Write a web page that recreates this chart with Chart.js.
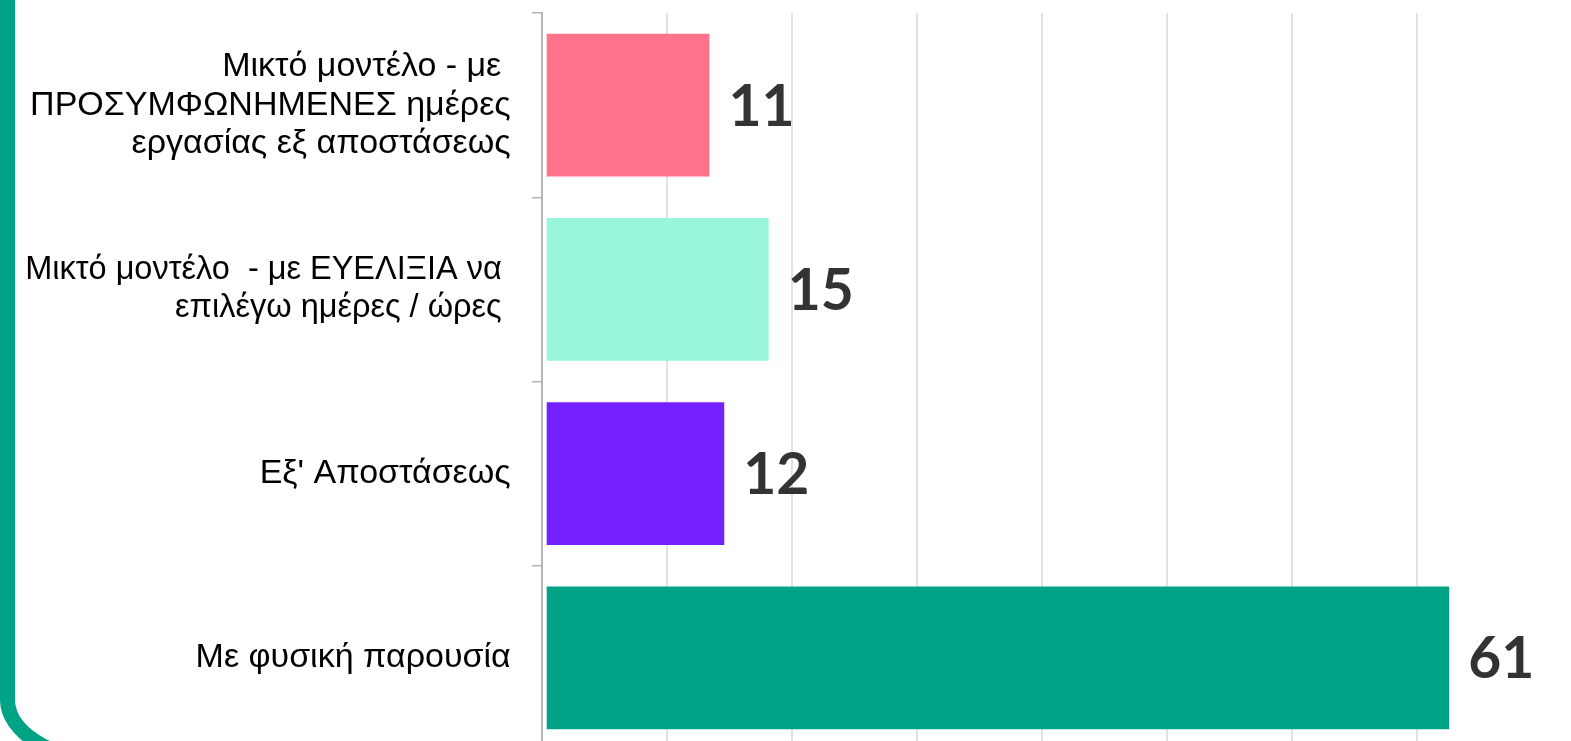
<!DOCTYPE html>
<html>
<head>
<meta charset="utf-8">
<script src="https://cdn.jsdelivr.net/npm/chart.js@4"></script>
<style>
  html, body { margin: 0; padding: 0; background: #fff; overflow: hidden; }
  #frame {
    position: absolute; left: 0; top: -60px; width: 1700px; height: 830px;
    border: 15px solid #00a386; box-sizing: border-box;
    border-bottom-left-radius: 120px 70px;
  }
  #wrap { position: absolute; left: 0; top: 0; width: 1571px; height: 750px; }
</style>
</head>
<body>
<div id="frame"></div>
<div id="wrap"><canvas id="myChart"></canvas></div>
<script>
var categories = [
	['Μικτό μοντέλο - με ', 'ΠΡΟΣΥΜΦΩΝΗΜΕΝΕΣ ημέρες', 'εργασίας εξ αποστάσεως'],
	['Μικτό μοντέλο  - με ΕΥΕΛΙΞΙΑ να ', 'επιλέγω ημέρες / ώρες '],
	["Εξ' Αποστάσεως"],
	['Με φυσική παρουσία']
];
var values = [11, 15, 12, 61];
var barColors = ['#ff738c', '#99f5dc', '#7420ff', '#00a386'];

// numbers printed to the right of each bar
var valueLabels = {
	id: 'valueLabels',
	afterDatasetsDraw: function(chart) {
		var ctx = chart.ctx;
		var meta = chart.getDatasetMeta(0);
		ctx.save();
		ctx.font = 'bold 57px Lato';
		ctx.fillStyle = '#333333';
		ctx.textBaseline = 'middle';
		ctx.textAlign = 'left';
		meta.data.forEach(function(bar, i) {
			ctx.fillText(String(values[i]), bar.x + 19, bar.y + 2);
		});
		ctx.restore();
	}
};

var ctx = document.getElementById('myChart');

var myChart = new Chart(ctx, {
	type: 'bar',
	data: {
		labels: categories,
		datasets: [{
			data: values,
			backgroundColor: barColors,
			borderWidth: 0,
			barPercentage: 0.774,
			categoryPercentage: 1
		}]
	},
	options: {
		indexAxis: 'y',
		responsive: true,
		maintainAspectRatio: false,
		animation: false,
		layout: { padding: { top: 13, right: 107, bottom: 0, left: 0 } },
		plugins: {
			legend: { display: false },
			tooltip: { enabled: false }
		},
		scales: {
			x: {
				min: -0.338,
				max: 62,
				afterBuildTicks: function(scale) {
					var t = [];
					for (var k = 0; k < 8; k++) t.push({ value: -0.338 + k * 8.4505 });
					scale.ticks = t;
				},
				ticks: { display: false },
				grid: { color: '#e2e2e2', lineWidth: 2, drawTicks: false },
				border: { display: false }
			},
			y: {
				afterFit: function(scale) {
					scale.width = 541.7;
					scale.paddingTop = 0;
					scale.paddingBottom = 0;
				},
				ticks: {
					color: '#000000',
					padding: 21,
					font: function(c) {
						// the second label is set a touch smaller in the original
						return { family: 'Liberation Sans', size: c.index === 1 ? 32.5 : 34, lineHeight: c.index === 1 ? 1.17 : 1.12 };
					}
				},
				grid: { drawOnChartArea: false, color: '#b5b5b5', tickLength: 10, lineWidth: 1.5 },
				border: { display: true, color: '#b5b5b5', width: 2 }
			}
		}
	},
	plugins: [valueLabels]
});
</script>
</body>
</html>
